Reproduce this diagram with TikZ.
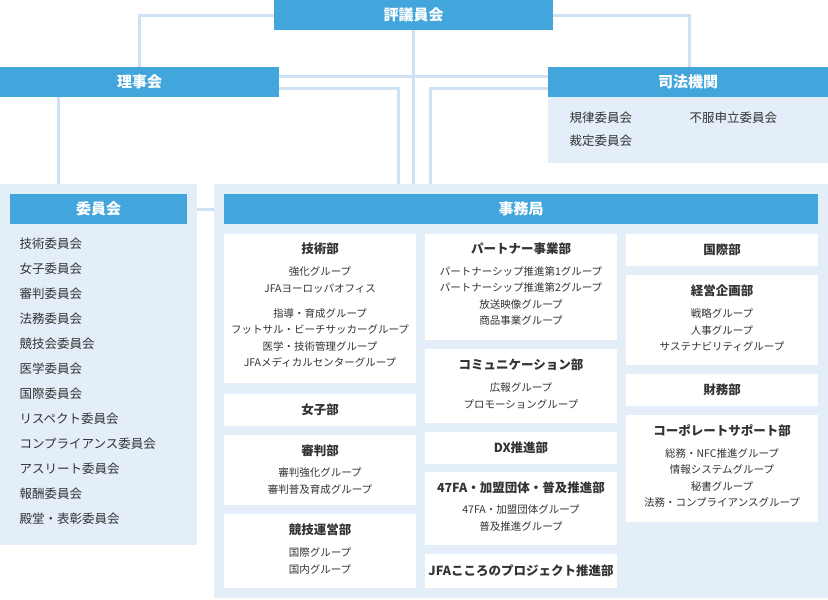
\documentclass[tikz,border=0pt]{standalone}
\usepackage{fontspec}
\setmainfont{Noto Sans CJK JP}
\begin{document}
\begin{tikzpicture}[x=1pt,y=-1pt,
  hd/.style={fill=hblue,draw=none,text=white,font=\bfseries\fontsize{15}{15}\selectfont},
  conn/.style={draw=lline,line width=3pt},
  wb/.style={fill=white,draw=none},
  ttl/.style={font=\bfseries\fontsize{12.5}{13}\selectfont,text=tx},
  itm/.style={font=\fontsize{10.5}{16.5}\selectfont,text=tx,align=center},
  cmt/.style={font=\fontsize{12.5}{13}\selectfont,text=tx,anchor=west}]
\definecolor{hblue}{HTML}{42A6DC}
\definecolor{lline}{HTML}{CFE2F3}
\definecolor{pbg}{HTML}{E3EEF8}
\definecolor{tx}{HTML}{333333}
\useasboundingbox (0,0) rectangle (828,600);
% connectors
\coordinate (c1) at (139,15); \coordinate (c2) at (689,15);
\draw[conn] (274,15) -- (c1) -- (139,67);
\draw[conn] (553,15) -- (c2) -- (689,67);
\draw[conn] (413,30) -- (413,184);
\draw[conn] (279,76) -- (548,76);
\draw[conn] (279,88) -- (398,88) -- (398,184);
\draw[conn] (548,88) -- (430,88) -- (430,184);
\draw[conn] (58,97) -- (58,184);
\draw[conn] (187,209) -- (224,209);
% panels
\fill[pbg] (548,97) rectangle (828,163);
\fill[pbg] (0,184) rectangle (197,545);
\fill[pbg] (214,184) rectangle (828,598);
% headers
\path[hd] (274,0) rectangle (553,30) node[midway] (hyo) {評議員会};
\path[hd] (0,67) rectangle (279,97) node[midway] (rij) {理事会};
\path[hd] (548,67) rectangle (828,97) node[midway] (shi) {司法機関};
\path[hd] (10,194) rectangle (187,224) node[midway] (iin) {委員会};
\path[hd] (224,194) rectangle (818,224) node[midway] (jim) {事務局};
% 司法 items
\node[cmt] (s1) at (566,118) {規律委員会};
\node[cmt] (s2) at (566,141) {裁定委員会};
\node[cmt] (s3) at (686,118) {不服申立委員会};
% committees
\foreach \t [count=\i] in {技術委員会,女子委員会,審判委員会,法務委員会,競技会委員会,医学委員会,国際委員会,リスペクト委員会,コンプライアンス委員会,アスリート委員会,報酬委員会,殿堂・表彰委員会}
  \node[cmt] (k\i) at (16,{244+25*(\i-1)}) {\t};
% column 1
\fill[wb] (224,234) rectangle (416,383);
\node[ttl] (g1) at (320,249) {技術部};
\node[itm] (g1a) at (320,280) {強化グループ\\JFAヨーロッパオフィス};
\node[itm] (g1b) at (320,338) {指導・育成グループ\\フットサル・ビーチサッカーグループ\\医学・技術管理グループ\\JFAメディカルセンターグループ};
\fill[wb] (224,394) rectangle (416,426);
\node[ttl] (g2) at (320,410) {女子部};
\fill[wb] (224,435) rectangle (416,505);
\node[ttl] (g3) at (320,451) {審判部};
\node[itm] (g3a) at (320,481) {審判強化グループ\\審判普及育成グループ};
\fill[wb] (224,514) rectangle (416,588);
\node[ttl] (g4) at (320,530) {競技運営部};
\node[itm] (g4a) at (320,561) {国際グループ\\国内グループ};
% column 2
\fill[wb] (425,234) rectangle (617,340);
\node[ttl] (h1) at (521,249) {パートナー事業部};
\node[itm] (h1a) at (521,296) {パートナーシップ推進第1グループ\\パートナーシップ推進第2グループ\\放送映像グループ\\商品事業グループ};
\fill[wb] (425,349) rectangle (617,423);
\node[ttl] (h2) at (521,365) {コミュニケーション部};
\node[itm] (h2a) at (521,396) {広報グループ\\プロモーショングループ};
\fill[wb] (425,432) rectangle (617,464);
\node[ttl] (h3) at (521,448) {DX推進部};
\fill[wb] (425,472) rectangle (617,545);
\node[ttl] (h4) at (521,488) {47FA・加盟団体・普及推進部};
\node[itm] (h4a) at (521,518) {47FA・加盟団体グループ\\普及推進グループ};
\fill[wb] (425,554) rectangle (617,588);
\node[ttl] (h5) at (521,571) {JFAこころのプロジェクト推進部};
% column 3
\fill[wb] (626,234) rectangle (818,266);
\node[ttl] (i1) at (722,250) {国際部};
\fill[wb] (626,275) rectangle (818,365);
\node[ttl] (i2) at (722,291) {経営企画部};
\node[itm] (i2a) at (722,330) {戦略グループ\\人事グループ\\サステナビリティグループ};
\fill[wb] (626,374) rectangle (818,406);
\node[ttl] (i3) at (722,390) {財務部};
\fill[wb] (626,415) rectangle (818,522);
\node[ttl] (i4) at (722,431) {コーポレートサポート部};
\node[itm] (i4a) at (722,478) {総務・NFC推進グループ\\情報システムグループ\\秘書グループ\\法務・コンプライアンスグループ};
\end{tikzpicture}
\end{document}
